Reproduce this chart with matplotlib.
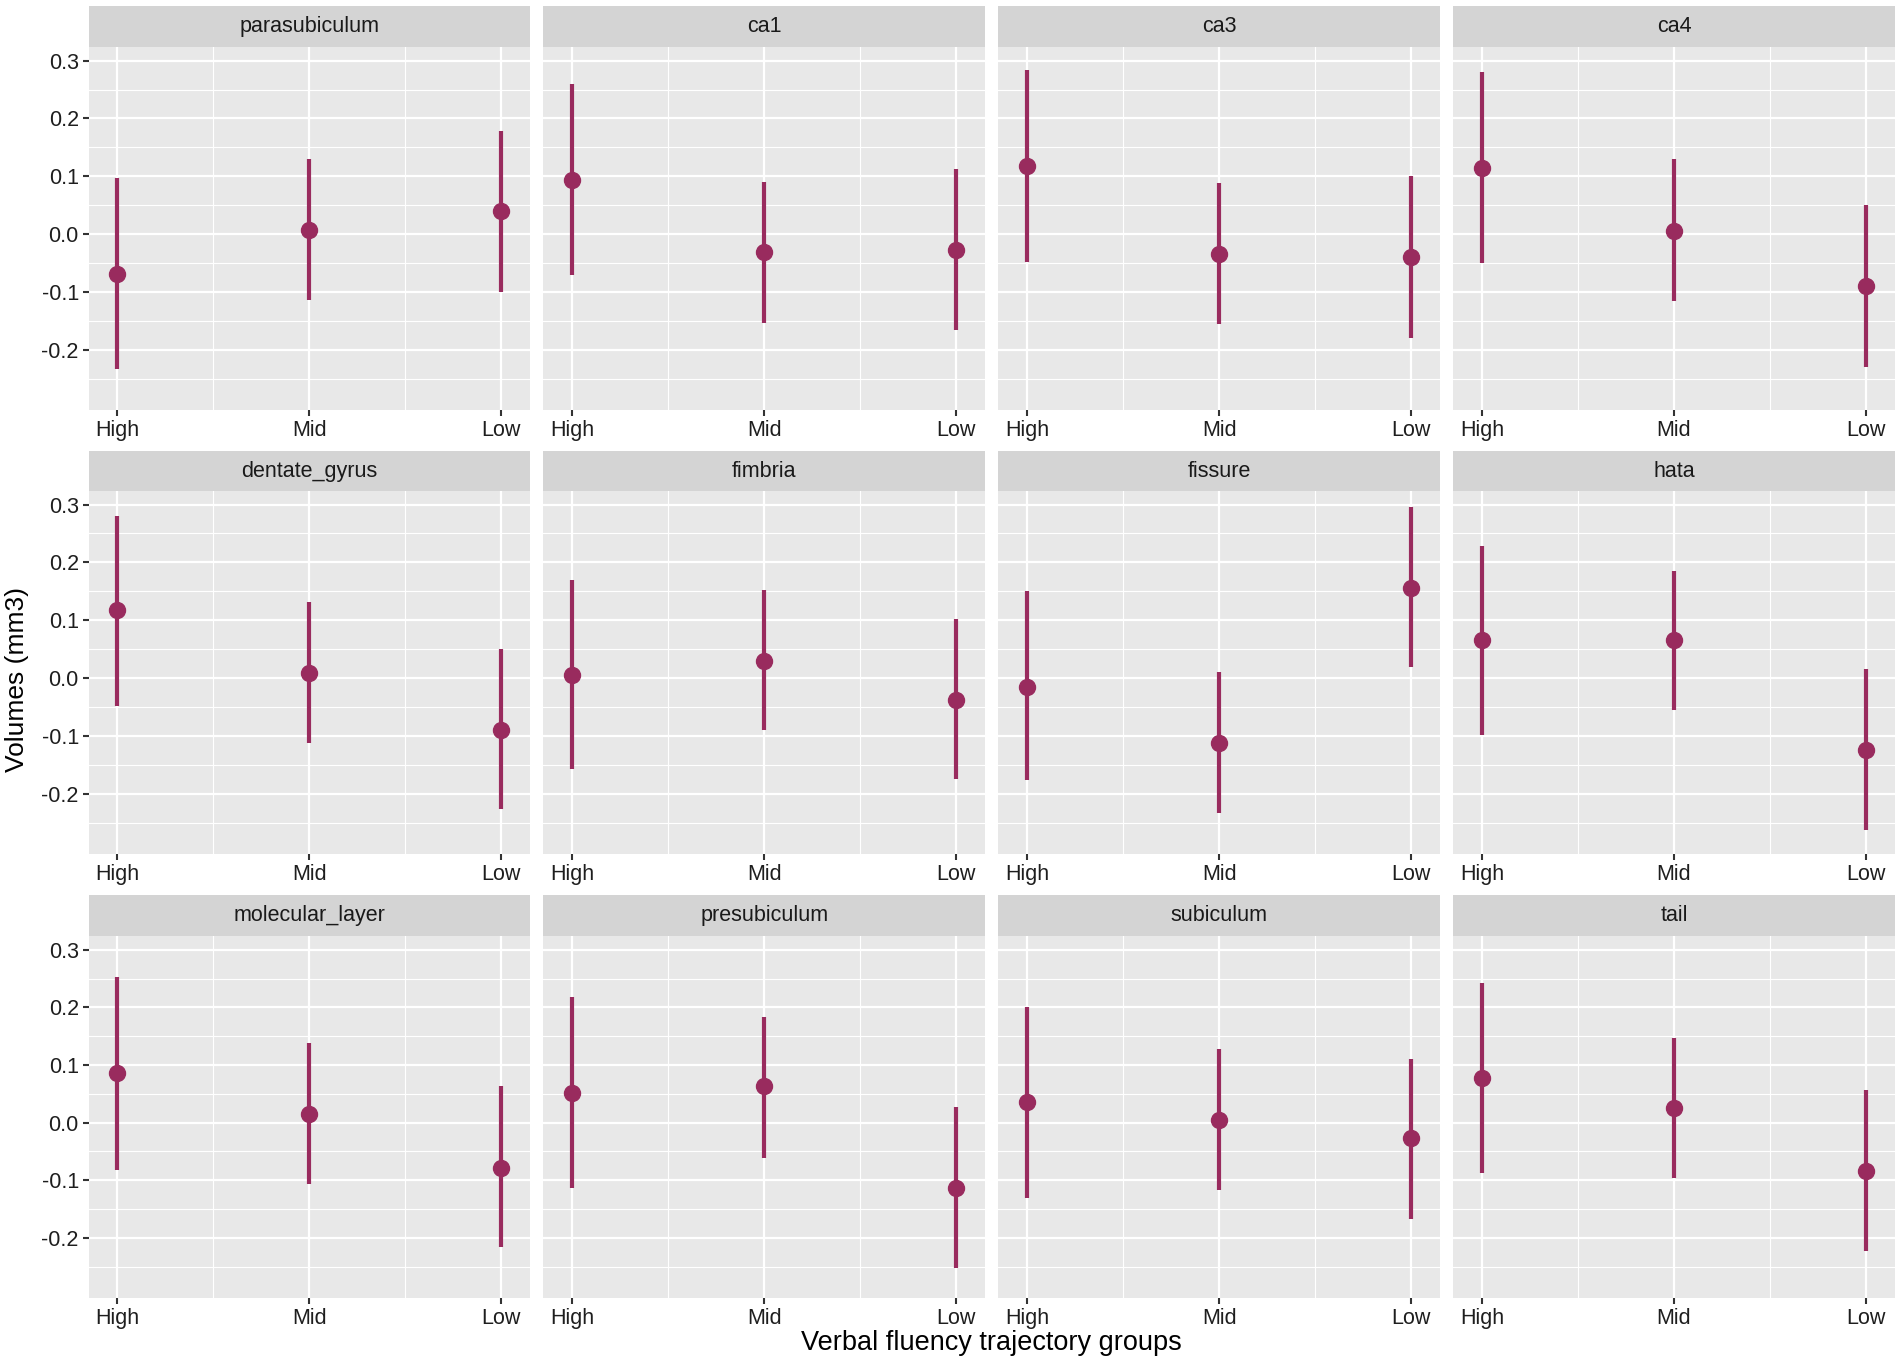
import matplotlib
matplotlib.use("Agg")
import matplotlib.pyplot as plt
import numpy as np

plt.rcParams["font.family"] = ["Liberation Sans", "DejaVu Sans"]

# data
groups = ["High", "Mid", "Low"]
regions = ["parasubiculum", "ca1", "ca3", "ca4",
           "dentate_gyrus", "fimbria", "fissure", "hata",
           "molecular_layer", "presubiculum", "subiculum", "tail"]
estimate = [
    [-0.069, 0.008, 0.040],
    [0.094, -0.031, -0.027],
    [0.117, -0.034, -0.040],
    [0.115, 0.006, -0.090],
    [0.117, 0.008, -0.090],
    [0.006, 0.029, -0.038],
    [-0.015, -0.113, 0.156],
    [0.065, 0.065, -0.125],
    [0.086, 0.015, -0.078],
    [0.052, 0.063, -0.113],
    [0.036, 0.004, -0.027],
    [0.078, 0.025, -0.084],
]
lower = [
    [-0.233, -0.113, -0.100],
    [-0.071, -0.153, -0.166],
    [-0.048, -0.155, -0.180],
    [-0.050, -0.115, -0.229],
    [-0.048, -0.113, -0.227],
    [-0.158, -0.090, -0.175],
    [-0.177, -0.233, 0.019],
    [-0.098, -0.056, -0.263],
    [-0.082, -0.107, -0.216],
    [-0.113, -0.061, -0.252],
    [-0.130, -0.117, -0.168],
    [-0.088, -0.096, -0.222],
]
upper = [
    [0.097, 0.130, 0.178],
    [0.260, 0.090, 0.113],
    [0.283, 0.088, 0.100],
    [0.281, 0.130, 0.050],
    [0.281, 0.131, 0.050],
    [0.169, 0.152, 0.102],
    [0.150, 0.010, 0.296],
    [0.229, 0.185, 0.015],
    [0.252, 0.138, 0.063],
    [0.218, 0.184, 0.027],
    [0.200, 0.128, 0.111],
    [0.243, 0.147, 0.057],
]

pointColor = "#992B5E"
panelBg = "#E8E8E8"
stripBg = "#D4D4D4"
textColor = "#1E1E1E"

W, H = 1568.0, 1124.5
colLeft = [73, 448, 823, 1198]
colWidth = 364
rows = [(5, 39, 338), (372, 405, 704), (738, 772, 1070)]
ylim = (-0.304, 0.323)

fig = plt.figure(figsize=(19.02, 13.64), dpi=100)
xs = np.arange(1, 4)

for k, name in enumerate(regions):
    r, c = divmod(k, 4)
    stripTop, panelTop, panelBottom = rows[r]
    left = colLeft[c] / W
    width = colWidth / W
    ax = fig.add_axes([left, 1 - panelBottom / H, width, (panelBottom - panelTop) / H])
    ax.set_facecolor(panelBg)
    for s in ax.spines.values():
        s.set_visible(False)

    ax.set_xlim(0.85, 3.15)
    ax.set_ylim(*ylim)
    ax.set_xticks(xs)
    ax.set_xticklabels(groups)
    ax.set_xticks([1.5, 2.5], minor=True)
    yt = np.arange(-0.2, 0.31, 0.1)
    ax.set_yticks(yt)
    ax.set_yticks(np.arange(-0.25, 0.31, 0.1), minor=True)
    if c == 0:
        ax.set_yticklabels(["{:.1f}".format(v).replace("-0.0", "0.0") for v in yt])
    else:
        ax.set_yticklabels([])

    ax.grid(which="major", color="white", lw=1.6)
    ax.grid(which="minor", color="white", lw=0.8)
    ax.set_axisbelow(True)
    ax.tick_params(which="major", length=4, width=1.5, color="#333333",
                   labelsize=15.5, labelcolor=textColor, pad=3)
    ax.tick_params(which="minor", length=0)
    if c != 0:
        ax.tick_params(axis="y", length=0)

    est = np.array(estimate[k])
    ax.vlines(xs, lower[k], upper[k], color=pointColor, lw=3.0, zorder=3)
    ax.plot(xs, est, "o", color=pointColor, ms=11.5, zorder=4)

    # facet strip
    sax = fig.add_axes([left, 1 - panelTop / H, width, (panelTop - stripTop) / H])
    sax.set_facecolor(stripBg)
    sax.set_xticks([])
    sax.set_yticks([])
    for s in sax.spines.values():
        s.set_visible(False)
    sax.text(0.5, 0.5, name, ha="center", va="center", fontsize=15.5,
             color="#1A1A1A", transform=sax.transAxes)

fig.text(14 / W, 1 - 560 / H, "Volumes (mm3)", rotation=90, ha="center",
         va="center", fontsize=19, color="black")
fig.text((73 + 1562) / 2 / W, 1 - 1107 / H, "Verbal fluency trajectory groups",
         ha="center", va="center", fontsize=19.5, color="black")

fig.savefig("out.png", dpi=100, facecolor="white")
